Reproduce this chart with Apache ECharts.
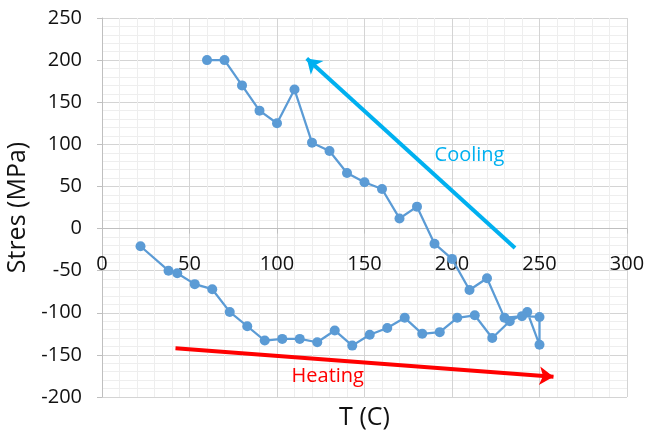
<!DOCTYPE html>
<html>
<head>
<meta charset="utf-8">
<script src="https://cdn.jsdelivr.net/npm/echarts@6/dist/echarts.min.js"></script>
<style>
  html, body { margin: 0; padding: 0; background: #fff; }
  #main { width: 647px; height: 433px; }
</style>
</head>
<body>
<div id="main"></div>
<script>
// heating branch (T rising)
var heatT = [22, 38, 43, 53, 63, 73, 83, 93, 103, 113, 123, 133, 143, 153, 163, 173, 183, 193, 203, 213, 223, 233, 243, 250];
var heatS = [-21, -50, -53, -66, -72, -99, -116, -133, -131, -131, -135, -121, -139, -126, -118, -106, -125, -123, -106, -103, -130, -110, -99, -138];
// cooling branch (T falling)
var coolT = [250, 240, 230, 220, 210, 200, 190, 180, 170, 160, 150, 140, 130, 120, 110, 100, 90, 80, 70, 60];
var coolS = [-105, -104, -106, -59, -73, -36, -18, 26, 12, 47, 55, 66, 92, 102, 165, 125, 140, 170, 200, 200];

var xTicks = { min: 0, max: 300, step: 50 };
var yTicks = { min: -200, max: 250, step: 50 };

// annotation arrows (data coords, from tail to head)
var coolArrow = [[236, -23], [117, 202]];
var heatArrow = [[42, -142], [258, -176]];
var notes = [
  { name: 'Cooling', at: [210, 87], color: '#00B0F0' },
  { name: 'Heating', at: [129, -176], color: '#FF0000' }
];

var path = [];
heatT.forEach(function (t, i) { path.push([t, heatS[i]]); });
coolT.forEach(function (t, i) { path.push([t, coolS[i]]); });

var font = 'Open Sans';
var gridBox = { left: 102, top: 18, width: 525, height: 379 };
// x axis crosses at stress = 0 (onZero does not kick in here, so shift it up)
var zeroShift = -gridBox.height * (0 - yTicks.min) / (yTicks.max - yTicks.min);

var chart = echarts.init(document.getElementById('main'));

chart.setOption({
  animation: false,
  grid: { left: gridBox.left, top: gridBox.top, width: gridBox.width, height: gridBox.height,
          containLabel: false, outerBoundsMode: 'none' },
  xAxis: {
    type: 'value',
    min: xTicks.min, max: xTicks.max, interval: xTicks.step,
    position: 'bottom',
    offset: zeroShift,
    name: 'T (C)',
    nameLocation: 'middle',
    nameGap: 177,
    nameTextStyle: { fontFamily: font, fontSize: 25, color: '#111' },
    axisLine: { show: true, onZero: false, lineStyle: { color: '#BFBFBF', width: 1 } },
    axisTick: { show: true, length: 5, lineStyle: { color: '#BFBFBF' } },
    axisLabel: { fontFamily: font, fontSize: 20, color: '#111', margin: 26 },
    splitLine: { show: true, lineStyle: { color: '#D4D4D4' } },
    minorTick: { show: false, splitNumber: 5 },
    minorSplitLine: { show: true, lineStyle: { color: '#EEEEEE' } }
  },
  yAxis: {
    type: 'value',
    min: yTicks.min, max: yTicks.max, interval: yTicks.step,
    name: 'Stres (MPa)',
    nameLocation: 'middle',
    nameGap: 55,
    nameTextStyle: { fontFamily: font, fontSize: 25, color: '#111' },
    axisLine: { show: true, onZero: false, lineStyle: { color: '#BFBFBF', width: 1 } },
    axisTick: { show: true, length: 5, lineStyle: { color: '#BFBFBF' } },
    axisLabel: { fontFamily: font, fontSize: 20, color: '#111', margin: 20 },
    splitLine: { show: true, lineStyle: { color: '#D4D4D4' } },
    minorTick: { show: false, splitNumber: 5 },
    minorSplitLine: { show: true, lineStyle: { color: '#EEEEEE' } }
  },
  series: [{
    type: 'line',
    data: path,
    color: '#5B9BD5',
    symbol: 'circle',
    symbolSize: 10,
    lineStyle: { width: 2.25, color: '#5B9BD5' },
    itemStyle: { color: '#5B9BD5' },
    z: 3,
    markLine: {
      silent: true,
      symbol: ['none', 'arrow'],
      symbolSize: 14,
      label: { show: false },
      data: [
        [{ coord: coolArrow[0], lineStyle: { color: '#00B0F0', width: 4, type: 'solid' } }, { coord: coolArrow[1] }],
        [{ coord: heatArrow[0], lineStyle: { color: '#FF0000', width: 4, type: 'solid' } }, { coord: heatArrow[1] }]
      ]
    },
    markPoint: {
      silent: true,
      symbol: 'circle',
      symbolSize: 0,
      data: notes.map(function (n) {
        return {
          name: n.name, coord: n.at,
          label: { show: true, position: 'inside', formatter: n.name,
                   fontFamily: font, fontSize: 20, color: n.color }
        };
      })
    }
  }]
});
</script>
</body>
</html>
